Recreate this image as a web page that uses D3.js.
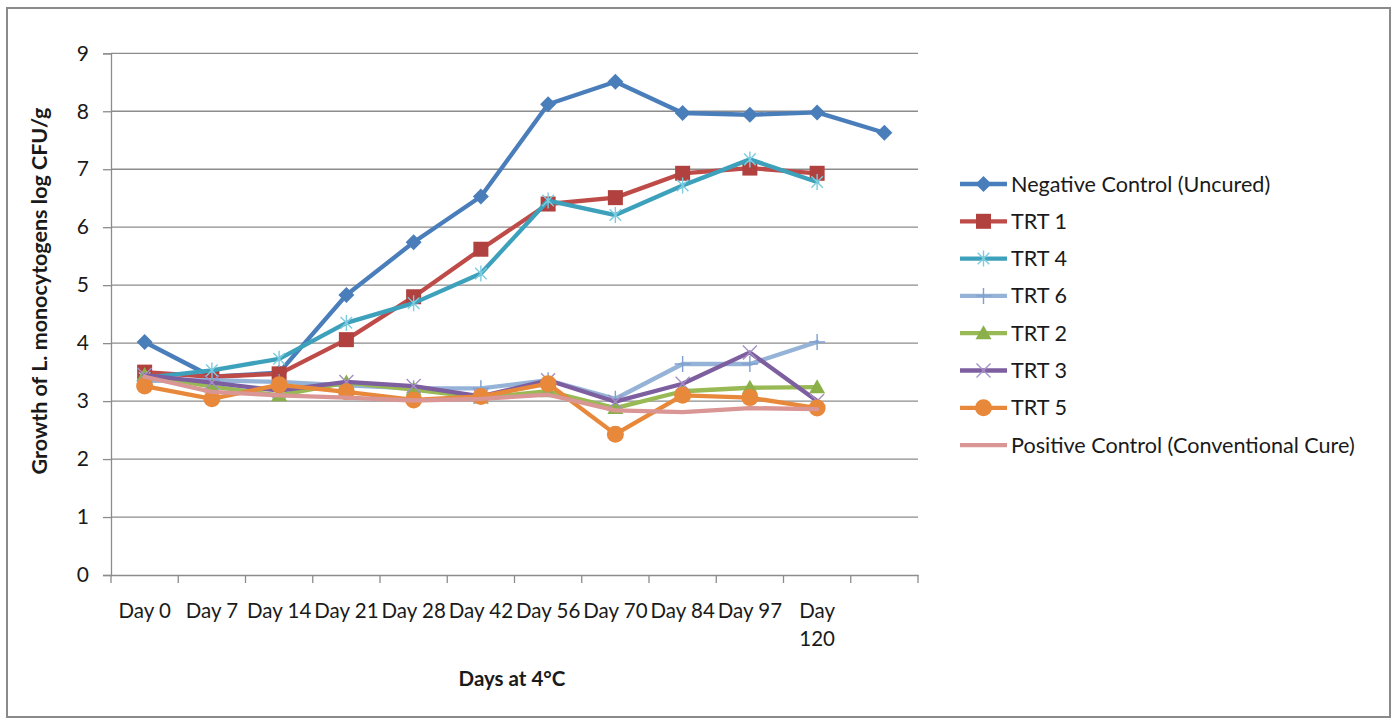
<!DOCTYPE html>
<html>
<head>
<meta charset="utf-8">
<script src="https://cdn.jsdelivr.net/npm/d3@7"></script>
<style>
  html, body { margin: 0; padding: 0; background: #fff; }
  svg { display: block; }
  text { font-family: Lato, "Open Sans", sans-serif; fill: #1a1a1a; }
</style>
</head>
<body>
<svg id="chart" width="1394" height="719"></svg>
<script>
// ---- data ----
const categories = ["Day 0", "Day 7", "Day 14", "Day 21", "Day 28", "Day 42", "Day 56", "Day 70", "Day 84", "Day 97", "Day 120", ""];
const yTicks = [0, 1, 2, 3, 4, 5, 6, 7, 8, 9];

const negativeControl = [4.02, 3.42, 3.49, 4.83, 5.74, 6.53, 8.12, 8.51, 7.97, 7.94, 7.98, 7.63];
const trt1 = [3.50, 3.42, 3.47, 4.06, 4.80, 5.62, 6.40, 6.51, 6.93, 7.02, 6.93, null];
const trt4 = [3.40, 3.53, 3.73, 4.35, 4.69, 5.20, 6.46, 6.21, 6.72, 7.17, 6.78, null];
const trt6 = [3.35, 3.36, 3.33, 3.27, 3.22, 3.22, 3.36, 3.04, 3.64, 3.64, 4.02, null];
const trt2 = [3.45, 3.25, 3.10, 3.32, 3.20, 3.06, 3.17, 2.88, 3.17, 3.23, 3.24, null];
const trt3 = [3.45, 3.32, 3.18, 3.33, 3.26, 3.08, 3.36, 2.99, 3.30, 3.84, 3.00, null];
const trt5 = [3.26, 3.04, 3.28, 3.16, 3.02, 3.08, 3.30, 2.43, 3.10, 3.06, 2.88, null];
const positiveControl = [3.42, 3.16, 3.10, 3.06, 3.01, 3.04, 3.11, 2.84, 2.81, 2.88, 2.86, null];

const seriesNames = ["Negative Control (Uncured)", "TRT 1", "TRT 4", "TRT 6", "TRT 2", "TRT 3", "TRT 5", "Positive Control (Conventional Cure)"];
const seriesValues = [negativeControl, trt1, trt4, trt6, trt2, trt3, trt5, positiveControl];
const seriesColors = ["#4A7EBB", "#BE4B48", "#3EA1BC", "#95B3D7", "#98B954", "#7D5FA0", "#E8883A", "#D99694"];
const markerColors = ["#4A7EBB", "#B0413E", "#7CCCE0", "#7F9FCF", "#8BB04A", "#A58FC6", "#E8883A", null];
const markerTypes = ["diamond", "square", "asterisk", "plus", "triangle", "cross", "circle", "none"];

// ---- layout ----
const svg = d3.select("#chart");
const W = 1394, H = 719;
const plot = { left: 111, right: 918, top: 53.3, bottom: 575 };

svg.append("rect").attr("width", W).attr("height", H).attr("fill", "#fff");
svg.append("rect")
  .attr("x", 7).attr("y", 8).attr("width", 1383).attr("height", 709)
  .attr("fill", "none").attr("stroke", "#8a8a8a").attr("stroke-width", 2);

const x = d3.scaleBand().domain(categories).range([plot.left, plot.right]).padding(0);
const y = d3.scaleLinear().domain([0, 9]).range([plot.bottom, plot.top]);

// gridlines
svg.append("g").selectAll("line").data(yTicks.filter(d => d > 0)).join("line")
  .attr("x1", plot.left).attr("x2", plot.right)
  .attr("y1", d => y(d)).attr("y2", d => y(d))
  .attr("stroke", "#8c8c8c").attr("stroke-width", 1.3);

// y axis
const yAxis = d3.axisLeft(y).tickValues(yTicks).tickSize(8).tickPadding(14).tickFormat(d3.format("d"));
const gy = svg.append("g").attr("transform", `translate(${plot.left},0)`).call(yAxis);
gy.select(".domain").attr("stroke", "#8c8c8c").attr("stroke-width", 1.3);
gy.selectAll(".tick line").attr("stroke", "#8c8c8c").attr("stroke-width", 1.3);
gy.selectAll(".tick text").style("font-size", "21px").attr("fill", "#1a1a1a").style("font-family", "Lato, sans-serif");

// x axis: ticks at band boundaries
const xAxis = d3.axisBottom(x).tickSize(0).tickFormat("");
const gx = svg.append("g").attr("transform", `translate(0,${plot.bottom})`).call(xAxis);
gx.select(".domain").attr("stroke", "#8c8c8c").attr("stroke-width", 1.3);
gx.selectAll(".tick").remove();
const bounds = categories.map(c => x(c)).concat([x(categories[categories.length - 1]) + x.bandwidth()]);
gx.selectAll("line.bt").data(bounds).join("line").attr("class", "bt")
  .attr("x1", d => d).attr("x2", d => d).attr("y1", 0).attr("y2", 8)
  .attr("stroke", "#8c8c8c").attr("stroke-width", 1.3);

// x tick labels with wrap
const labG = svg.append("g");
categories.forEach(c => {
  if (!c) return;
  const cx = x(c) + x.bandwidth() / 2;
  const t = labG.append("text").attr("x", cx).attr("y", 618).attr("text-anchor", "middle")
    .style("font-size", "20.5px").text(c);
  if (t.node().getComputedTextLength() > x.bandwidth() - 1) {
    const parts = c.split(" ");
    t.text(null);
    parts.forEach((p, i) => {
      t.append("tspan").attr("x", cx).attr("dy", i === 0 ? 0 : 28).text(p);
    });
  }
});

// axis titles
svg.append("text")
  .attr("transform", `translate(47,${(107 + 475) / 2}) rotate(-90)`)
  .attr("text-anchor", "middle").style("font-size", "21.5px").style("font-weight", "bold")
  .text("Growth of L. monocytogens log CFU/g");
svg.append("text")
  .attr("x", 512).attr("y", 686).attr("text-anchor", "middle")
  .style("font-size", "20.5px").style("font-weight", "bold")
  .text("Days at 4\u00B0C");

// marker drawing
function drawMarker(g, type, cx, cy, color, scale) {
  const s = scale || 1;
  if (type === "diamond") {
    const r = 8 * s;
    g.append("path").attr("d", `M${cx},${cy - r}L${cx + r},${cy}L${cx},${cy + r}L${cx - r},${cy}Z`).attr("fill", color);
  } else if (type === "square") {
    const r = 7.5 * s;
    g.append("rect").attr("x", cx - r).attr("y", cy - r).attr("width", 2 * r).attr("height", 2 * r).attr("fill", color);
  } else if (type === "triangle") {
    const r = 8 * s;
    g.append("path").attr("d", `M${cx},${cy - r}L${cx + r},${cy + r * 0.75}L${cx - r},${cy + r * 0.75}Z`).attr("fill", color);
  } else if (type === "circle") {
    g.append("circle").attr("cx", cx).attr("cy", cy).attr("r", 8.5 * s).attr("fill", color);
  } else if (type === "asterisk") {
    const r = 8 * s, d = r * 0.72;
    g.append("path").attr("d", `M${cx},${cy - r}V${cy + r}M${cx - d},${cy - d}L${cx + d},${cy + d}M${cx - d},${cy + d}L${cx + d},${cy - d}`)
      .attr("stroke", color).attr("stroke-width", 1.4).attr("fill", "none");
  } else if (type === "plus") {
    const r = 8 * s;
    g.append("path").attr("d", `M${cx},${cy - r}V${cy + r}M${cx - r},${cy}H${cx + r}`)
      .attr("stroke", color).attr("stroke-width", 1.4).attr("fill", "none");
  } else if (type === "cross") {
    const d = 7 * s;
    g.append("path").attr("d", `M${cx - d},${cy - d}L${cx + d},${cy + d}M${cx - d},${cy + d}L${cx + d},${cy - d}`)
      .attr("stroke", color).attr("stroke-width", 1.4).attr("fill", "none");
  }
}

// series
const line = d3.line()
  .defined(d => d.v !== null)
  .x(d => x(d.c) + x.bandwidth() / 2)
  .y(d => y(d.v));

seriesValues.forEach((vals, si) => {
  const pts = vals.map((v, i) => ({ c: categories[i], v }));
  const g = svg.append("g");
  g.append("path").datum(pts).attr("d", line)
    .attr("fill", "none").attr("stroke", seriesColors[si]).attr("stroke-width", 4.3)
    .attr("stroke-linejoin", "round").attr("stroke-linecap", "round");
  pts.forEach(p => {
    if (p.v === null) return;
    drawMarker(g, markerTypes[si], x(p.c) + x.bandwidth() / 2, y(p.v), markerColors[si]);
  });
});

// legend
const lg = svg.append("g");
seriesNames.forEach((name, i) => {
  const yy = 184 + i * 37.3;
  lg.append("line").attr("x1", 960).attr("x2", 1007).attr("y1", yy).attr("y2", yy)
    .attr("stroke", seriesColors[i]).attr("stroke-width", 4.3);
  drawMarker(lg, markerTypes[i], 983.5, yy, markerColors[i]);
  lg.append("text").attr("x", 1011).attr("y", yy + 7.5).style("font-size", "21.6px").text(name);
});
</script>
</body>
</html>
